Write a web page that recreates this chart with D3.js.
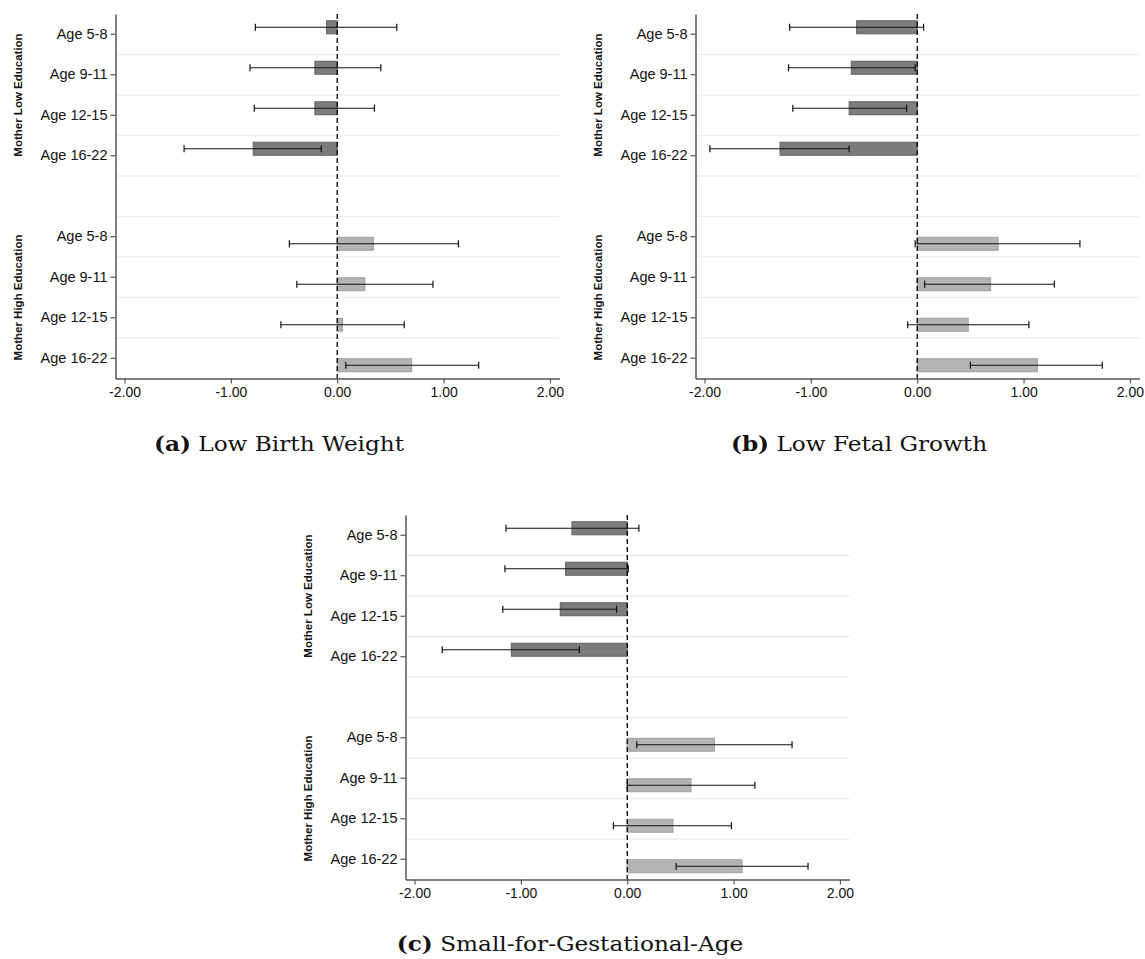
<!DOCTYPE html>
<html>
<head>
<meta charset="utf-8">
<script src="https://cdn.jsdelivr.net/npm/d3@7"></script>
<style>
  body { margin: 0; background: #fff; }
  svg text { font-family: "Liberation Sans", Arial, sans-serif; }
</style>
</head>
<body>
<div id="chart"></div>
<script>
const ages = ["Age 5-8", "Age 9-11", "Age 12-15", "Age 16-22"];
const groups = ["Mother Low Education", "Mother High Education"];
const xTicks = [-2, -1, 0, 1, 2];

// each series: 4 low-education values, then 4 high-education values
const lbwCoef = [-0.10, -0.21, -0.21, -0.79, 0.34, 0.26, 0.05, 0.70];
const lbwLo   = [-0.77, -0.82, -0.78, -1.44, -0.45, -0.38, -0.53, 0.08];
const lbwHi   = [0.56, 0.41, 0.35, -0.15, 1.14, 0.90, 0.63, 1.33];

const lfgCoef = [-0.57, -0.62, -0.64, -1.29, 0.76, 0.69, 0.48, 1.13];
const lfgLo   = [-1.20, -1.21, -1.17, -1.95, -0.02, 0.07, -0.09, 0.50];
const lfgHi   = [0.06, -0.02, -0.10, -0.64, 1.53, 1.29, 1.05, 1.74];

const sgaCoef = [-0.52, -0.58, -0.63, -1.09, 0.82, 0.60, 0.43, 1.08];
const sgaLo   = [-1.14, -1.15, -1.17, -1.74, 0.09, 0.00, -0.13, 0.46];
const sgaHi   = [0.11, 0.01, -0.10, -0.45, 1.55, 1.20, 0.98, 1.70];

const captionTags = ["(a)", "(b)", "(c)"];
const captionTexts = ["Low Birth Weight", "Low Fetal Growth", "Small-for-Gestational-Age"];

const width = 1145, height = 959;
const plotW = 444, plotH = 364.5;

const panels = [
  { coef: lbwCoef, lo: lbwLo, hi: lbwHi, left: 115.5, top: 14, capX: 279, capY: 451 },
  { coef: lfgCoef, lo: lfgLo, hi: lfgHi, left: 695.5, top: 14, capX: 859, capY: 451 },
  { coef: sgaCoef, lo: sgaLo, hi: sgaHi, left: 405.5, top: 515, capX: 570, capY: 951 }
];

const barFill = { "Mother Low Education": "#7c7c7c", "Mother High Education": "#b3b3b3" };
const barStroke = { "Mother Low Education": "#616161", "Mother High Education": "#a0a0a0" };

const svg = d3.select("#chart").append("svg")
  .attr("width", width)
  .attr("height", height);

// 9 slots: 4 ages, an empty gap, 4 ages
const slots = ["L0", "L1", "L2", "L3", "gap", "H0", "H1", "H2", "H3"];
const slotLabel = s => s === "gap" ? "" : ages[+s[1]];

const x = d3.scaleLinear().domain([-2.085, 2.09]).range([0, plotW]);
const y = d3.scaleBand().domain(slots).range([0, plotH]);
const bw = y.bandwidth();
const inner = d3.scaleBand().domain(groups).range([bw / 2 - 14, bw / 2 + 14]);

function drawPanel(p, i) {
  const g = svg.append("g").attr("transform", `translate(${p.left},${p.top})`);

  const rows = [];
  groups.forEach((grp, gi) => {
    ages.forEach((age, ai) => {
      const k = gi * 4 + ai;
      rows.push({ group: grp, slot: (gi === 0 ? "L" : "H") + ai, coef: p.coef[k], lo: p.lo[k], hi: p.hi[k] });
    });
  });

  // gridlines between slots
  g.append("g").selectAll("line")
    .data(slots.slice(1))
    .join("line")
    .attr("x1", 0).attr("x2", plotW)
    .attr("y1", d => y(d)).attr("y2", d => y(d))
    .attr("stroke", "#e9eff2")
    .attr("stroke-width", 1.5);

  // bars
  g.append("g").selectAll("rect")
    .data(rows)
    .join("rect")
    .attr("x", d => x(Math.min(0, d.coef)))
    .attr("width", d => Math.abs(x(d.coef) - x(0)))
    .attr("y", d => y(d.slot) + inner(d.group) + 0.5)
    .attr("height", inner.bandwidth() - 1)
    .attr("fill", d => barFill[d.group])
    .attr("stroke", d => barStroke[d.group])
    .attr("stroke-width", 1);

  // zero reference line
  g.append("line")
    .attr("x1", x(0)).attr("x2", x(0))
    .attr("y1", 0).attr("y2", plotH)
    .attr("stroke", "#000")
    .attr("stroke-width", 1.3)
    .attr("stroke-dasharray", "5,3");

  // confidence intervals
  const cy = d => y(d.slot) + inner(d.group) + inner.bandwidth() / 2;
  const ci = g.append("g").selectAll("g").data(rows).join("g")
    .attr("stroke", "#111").attr("stroke-width", 1.2);
  ci.append("line")
    .attr("x1", d => x(d.lo)).attr("x2", d => x(d.hi))
    .attr("y1", cy).attr("y2", cy);
  ci.append("line")
    .attr("x1", d => x(d.lo)).attr("x2", d => x(d.lo))
    .attr("y1", d => cy(d) - 3.5).attr("y2", d => cy(d) + 3.5);
  ci.append("line")
    .attr("x1", d => x(d.hi)).attr("x2", d => x(d.hi))
    .attr("y1", d => cy(d) - 3.5).attr("y2", d => cy(d) + 3.5);

  // axes
  const yAxis = g.append("g")
    .call(d3.axisLeft(y)
      .tickValues(slots.filter(s => s !== "gap"))
      .tickFormat(slotLabel)
      .tickSize(5)
      .tickSizeOuter(0)
      .tickPadding(3));
  yAxis.selectAll("text").attr("font-size", 14.5).attr("fill", "#111");

  const xAxis = g.append("g")
    .attr("transform", `translate(0,${plotH})`)
    .call(d3.axisBottom(x)
      .tickValues(xTicks)
      .tickFormat(d => d.toFixed(2))
      .tickSize(5)
      .tickSizeOuter(0)
      .tickPadding(4));
  xAxis.selectAll("text").attr("font-size", 14).attr("fill", "#111");

  [yAxis, xAxis].forEach(a => {
    a.select(".domain").attr("stroke", "#555").attr("stroke-width", 1.5);
    a.selectAll(".tick line").attr("stroke", "#555").attr("stroke-width", 1.2);
  });

  // group titles
  const groupCenters = [
    (y("L0") + y("L3") + bw) / 2,
    (y("H0") + y("H3") + bw) / 2
  ];
  groups.forEach((grp, gi) => {
    g.append("text")
      .attr("transform", `translate(-98,${groupCenters[gi]}) rotate(-90)`)
      .attr("text-anchor", "middle")
      .attr("dominant-baseline", "central")
      .attr("font-size", 11.5)
      .attr("font-weight", "bold")
      .attr("fill", "#111")
      .text(grp);
  });

  // caption (LaTeX-like serif, slightly widened)
  const cap = svg.append("text")
    .attr("transform", `translate(${p.capX},${p.capY}) scale(1.16,1)`)
    .attr("text-anchor", "middle")
    .style("font-family", "'DejaVu Serif', serif")
    .attr("font-size", 20)
    .attr("fill", "#111");
  cap.append("tspan").attr("font-weight", "bold").text(captionTags[i]);
  cap.append("tspan").text(" " + captionTexts[i]);
}

panels.forEach(drawPanel);
</script>
</body>
</html>
